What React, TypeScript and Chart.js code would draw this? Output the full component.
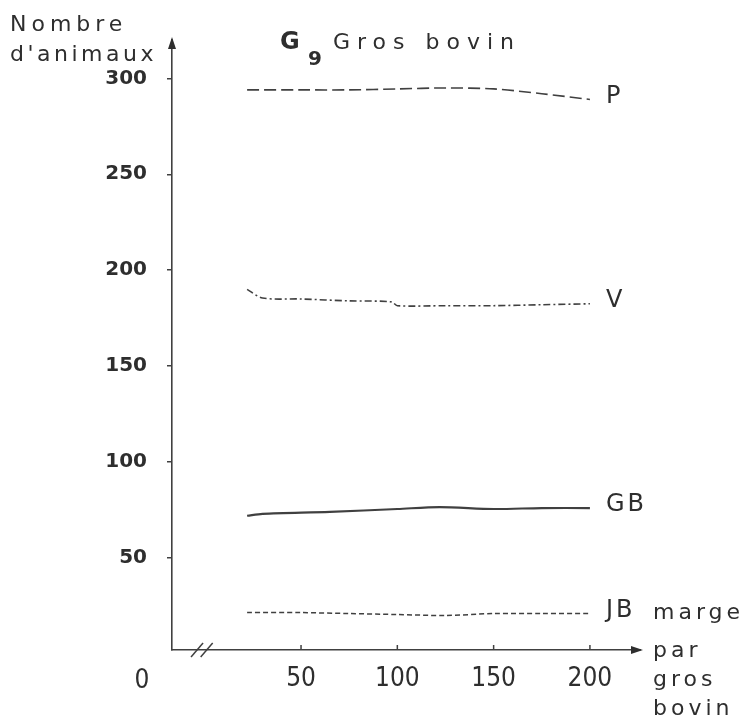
import React, { useEffect, useRef } from 'react';
import { Chart, registerables } from 'chart.js';
Chart.register(...registerables);

// ---- data ----
const xTickValues = [50, 100, 150, 200];
const yTickValues = [50, 100, 150, 200, 250, 300];

const xP = [22, 50, 75, 100, 125, 150, 175, 200];
const yP = [294, 294, 294, 294.5, 295, 294.5, 292, 289];

const xV = [22, 30, 50, 75, 97, 100, 125, 150, 175, 200];
const yV = [190, 185.5, 185, 184, 183.5, 181.5, 181.5, 181.5, 182, 182.5];

const xGB = [22, 30, 65, 100, 122, 150, 175, 200];
const yGB = [72, 73, 74, 75.5, 76.5, 75.5, 76, 76];

const xJB = [22, 50, 75, 100, 125, 150, 175, 200];
const yJB = [21.5, 21.5, 21, 20.5, 20, 21, 21, 21];

const seriesNames = ['P', 'V', 'GB', 'JB'];
const yAxisTitle = ['Nombre', "d'animaux"];
const xAxisTitle = ['marge', 'par', 'gros', 'bovin'];
const titleMain = 'G';
const titleSub = '9';
const titleRest = 'Gros bovin';
const originLabel = '0';

const INK = '#2e2e2e';
const LINE = '#404040';
const FONT = "'DejaVu Sans', 'Liberation Sans', sans-serif";
const NARROW = "'DejaVu Sans Condensed', 'Liberation Sans Narrow', 'DejaVu Sans', sans-serif";

const toPts = (xs: number[], ys: number[]) => xs.map((x, i) => ({ x, y: ys[i] }));

const decor = {
  id: 'decor',
  beforeDraw(chart: any) {
    const ctx = chart.ctx;
    ctx.save();
    ctx.fillStyle = '#ffffff';
    ctx.fillRect(0, 0, chart.width, chart.height);
    ctx.restore();
  },
  afterDraw(chart: any) {
    const ctx = chart.ctx as CanvasRenderingContext2D;
    const { left, right, top, bottom } = chart.chartArea;
    const xs = chart.scales.x;
    ctx.save();
    ctx.strokeStyle = LINE;
    ctx.fillStyle = INK;
    ctx.lineWidth = 1.5;
    // arrowheads
    ctx.beginPath();
    ctx.moveTo(left, top - 3);
    ctx.lineTo(left - 4, top + 9);
    ctx.lineTo(left + 4, top + 9);
    ctx.closePath();
    ctx.fill();
    ctx.beginPath();
    ctx.moveTo(right + 3, bottom);
    ctx.lineTo(right - 9, bottom - 4);
    ctx.lineTo(right - 9, bottom + 4);
    ctx.closePath();
    ctx.fill();
    // break marks
    [-4, 1].forEach((v) => {
      const px = xs.getPixelForValue(v);
      ctx.beginPath();
      ctx.moveTo(px - 6, bottom + 7);
      ctx.lineTo(px + 6, bottom - 7);
      ctx.stroke();
    });
    // x ticks upward
    xTickValues.forEach((v) => {
      const px = xs.getPixelForValue(v);
      ctx.beginPath();
      ctx.moveTo(px, bottom);
      ctx.lineTo(px, bottom - 5);
      ctx.stroke();
    });
    // series labels
    (ctx as any).letterSpacing = '3px';
    ctx.font = `24px ${FONT}`;
    ctx.textAlign = 'left';
    ctx.textBaseline = 'middle';
    chart.data.datasets.forEach((ds: any, i: number) => {
      const meta = chart.getDatasetMeta(i);
      const last = meta.data[meta.data.length - 1];
      ctx.fillText(seriesNames[i], last.x + 16, last.y - 3);
    });
    // x axis title
    (ctx as any).letterSpacing = '4px';
    ctx.font = `22px ${FONT}`;
    const rows = [-37, 1, 30, 59];
    xAxisTitle.forEach((t, i) => ctx.fillText(t, right + 13, bottom + rows[i]));
    // y axis title
    (ctx as any).letterSpacing = '5px';
    ctx.fillText(yAxisTitle[0], 10, 25);
    (ctx as any).letterSpacing = '3.5px';
    ctx.fillText(yAxisTitle[1], 10, 55);
    // title
    ctx.font = `bold 24px ${FONT}`;
    (ctx as any).letterSpacing = '0px';
    ctx.fillText(titleMain, 280, 43);
    ctx.font = `bold 20px ${FONT}`;
    ctx.fillText(titleSub, 308, 60);
    (ctx as any).letterSpacing = '7px';
    ctx.font = `22px ${FONT}`;
    ctx.fillText(titleRest, 333, 43);
    // origin label
    (ctx as any).letterSpacing = '2px';
    ctx.font = `26px ${NARROW}`;
    ctx.textAlign = 'center';
    ctx.fillText(originLabel, 143, 681);
    ctx.restore();
  },
};

export default function App() {
  const ref = useRef<HTMLCanvasElement>(null);
  useEffect(() => {
    if (!ref.current) return;
    const mk = (data: any[], dash: number[], width: number) => ({
      data,
      borderColor: LINE,
      borderWidth: width,
      borderDash: dash,
      pointRadius: 0,
      fill: false,
      tension: 0.3,
      showLine: true,
    });
    const chart = new Chart(ref.current, {
      type: 'scatter',
      data: {
        datasets: [
          mk(toPts(xP, yP), [12, 5], 1.6),
          mk(toPts(xV, yV), [7, 3, 2, 3], 1.6),
          mk(toPts(xGB, yGB), [], 2.2),
          mk(toPts(xJB, yJB), [5, 3], 1.5),
        ],
      },
      options: {
        responsive: false,
        animation: false,
        devicePixelRatio: 1,
        layout: { padding: { left: 0, right: 114, top: 40, bottom: 0 } },
        plugins: { legend: { display: false }, tooltip: { enabled: false }, title: { display: false } },
        scales: {
          x: {
            type: 'linear',
            min: -17,
            max: 226,
            afterBuildTicks: (s: any) => { s.ticks = xTickValues.map((v) => ({ value: v })); },
            afterFit: (s: any) => { s.height = 73; },
            grid: { display: false, drawTicks: false },
            border: { display: true, color: LINE, width: 1.6 },
            ticks: {
              padding: 14,
              color: INK,
              font: { family: NARROW, size: 26 },
              maxRotation: 0,
              autoSkip: false,
            },
          },
          y: {
            type: 'linear',
            min: 2,
            max: 320,
            afterBuildTicks: (s: any) => { s.ticks = yTickValues.map((v) => ({ value: v })); },
            afterFit: (s: any) => { s.width = 172; },
            grid: { display: true, drawOnChartArea: false, drawTicks: true, tickLength: 5, color: LINE, lineWidth: 1.5 },
            border: { display: true, color: LINE, width: 1.6 },
            ticks: {
              padding: 20,
              color: INK,
              font: { family: FONT, size: 20, weight: 'bold' },
              autoSkip: false,
            },
          },
        },
      },
      plugins: [decor],
    } as any);
    return () => chart.destroy();
  }, []);
  return (
    <canvas
      ref={ref}
      width={754}
      height={723}
      style={{ position: 'fixed', left: 0, top: 0, display: 'block' }}
    />
  );
}
